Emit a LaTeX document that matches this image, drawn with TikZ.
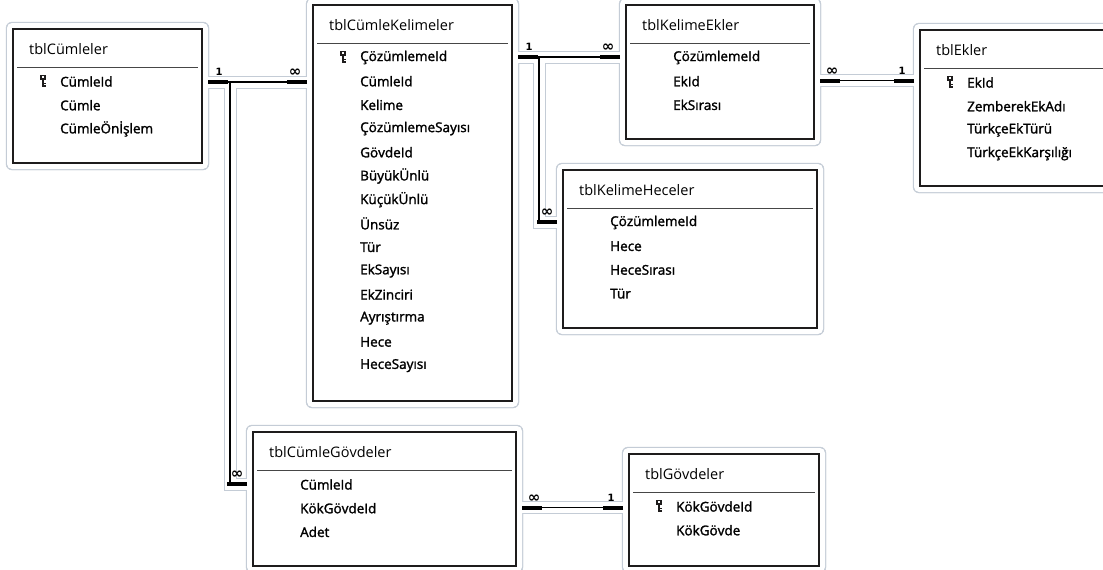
\documentclass[tikz,border=0pt]{standalone}
\usepackage{fontspec}
\setmainfont{Open Sans}
\newfontfamily\fieldfont{Open Sans}[FakeBold=1.7]
\newfontfamily\symfont{DejaVu Sans}
\usetikzlibrary{calc}
\definecolor{boxc}{RGB}{30,28,28}
\definecolor{haloc}{RGB}{196,204,214}
\definecolor{sepc}{RGB}{70,70,70}
\tikzset{
  tbox/.style={draw=boxc, line width=2pt, fill=white, anchor=north west, inner sep=0pt},
  ttitle/.style={anchor=west, inner sep=0pt, font=\fontsize{14.5}{15}\selectfont},
  tfield/.style={anchor=west, inner sep=0pt, font=\fieldfont\fontsize{13.5}{14}\selectfont},
  rel/.style={line width=1.4pt, black},
  card/.style={line width=4pt, black},
  onelbl/.style={font=\symfont\bfseries\fontsize{10}{10}\selectfont, inner sep=0pt},
  manylbl/.style={font=\symfont\bfseries\fontsize{15}{15}\selectfont, inner sep=0pt},
  haloout/.style={line width=13pt, haloc},
  haloin/.style={line width=11pt, white},
}
\newcommand{\dbtable}[6]{%
  \node[tbox, minimum width=#4pt, minimum height=#5pt] (#1) at (#2,#3) {};
  \draw[sepc, line width=1.3pt] ($(#1.north west)+(5,39.5)$) -- ($(#1.north east)+(-5,39.5)$);
  \node[ttitle] (#1-t) at ($(#1.north west)+(17,21)$) {#6};
}
\newcommand{\dbfield}[3]{%
  \node[tfield] (#1-#2) at ($(#1.north west)+(48,{53.5+(#2-1)*23.7})$) {#3};
}
\newcommand{\dbkey}[1]{%
  \coordinate (#1-k) at ($(#1.north west)+(31,53)$);
  \begin{scope}[shift={(#1-k)}]
    \fill[boxc] (-2.6,-6.5) rectangle (2.6,-1);
    \fill[white] (-0.8,-5) rectangle (0.8,-3.2);
    \fill[boxc] (-1.1,-1) rectangle (1.1,6);
    \fill[boxc] (1,1.8) rectangle (2.5,3);
    \fill[boxc] (1,4.2) rectangle (2.5,5.6);
  \end{scope}
}
\newcommand{\tblhalo}[2]{%
  \filldraw[#2, rounded corners=6pt] ($(#1.north west)+(-6,-6)$) rectangle ($(#1.south east)+(6,6)$);
}
\begin{document}
\begin{tikzpicture}[x=1pt,y=-1pt]
\useasboundingbox (0,0) rectangle (1103,570);
\clip (0,0) rectangle (1103,570);
\fill[white] (0,0) rectangle (1103,570);

% placement of tables first (for names)
\node[tbox, draw=none, fill=none, minimum width=189pt, minimum height=134pt] (cl) at (12,28) {};
\node[tbox, draw=none, fill=none, minimum width=199pt, minimum height=396pt] (ck) at (312,4) {};
\node[tbox, draw=none, fill=none, minimum width=188pt, minimum height=134pt] (ke) at (625,4) {};
\node[tbox, draw=none, fill=none, minimum width=254pt, minimum height=158pt] (kh) at (562,169) {};
\node[tbox, draw=none, fill=none, minimum width=200pt, minimum height=156pt] (ek) at (919,29) {};
\node[tbox, draw=none, fill=none, minimum width=263pt, minimum height=134pt] (cg) at (252,431) {};
\node[tbox, draw=none, fill=none, minimum width=190pt, minimum height=112pt] (gv) at (628,453) {};

% connector end coordinates
\coordinate (r1) at ($(cl.north east)+(0,54)$);
\coordinate (r2) at ($(ck.north east)+(0,53)$);
\coordinate (r3) at ($(ke.north east)+(0,76.7)$);
\coordinate (r4) at ($(cg.north east)+(0,76.7)$);
\coordinate (r5) at ($(cg.north west)+(0,53)$);
\coordinate (r6) at ($(kh.north west)+(0,53)$);

\coordinate (c1a) at ($(r1)+(5,0)$);
\coordinate (c1b) at ($(ck.west |- r1)+(-5,0)$);
\coordinate (c2a) at ($(r2)+(5,0)$);
\coordinate (c2b) at ($(ke.west |- r2)+(-5,0)$);
\coordinate (c3a) at ($(r3)+(5,0)$);
\coordinate (c3b) at ($(ek.west |- r3)+(-5,0)$);
\coordinate (c4a) at ($(r4)+(5,0)$);
\coordinate (c4b) at ($(gv.west |- r4)+(-5,0)$);
\coordinate (c5b) at ($(r5)+(-5,0)$);
\coordinate (c6b) at ($(r6)+(-5,0)$);
\coordinate (b1) at ($(c1a)+(22,0)$);
\coordinate (b2) at ($(c2a)+(21,0)$);

% halos
\foreach \t in {cl,ck,ke,kh,ek,cg,gv} {\tblhalo{\t}{haloc}}
\draw[haloout] (r1) -- (ck.west |- r1);
\draw[haloout] (r2) -- (ke.west |- r2);
\draw[haloout] (r3) -- (ek.west |- r3);
\draw[haloout] (r4) -- (gv.west |- r4);
\draw[haloout] (b1) |- (r5);
\draw[haloout] (b2) |- (r6);
\foreach \t in {cl,ck,ke,kh,ek,cg,gv} {
  \fill[white, rounded corners=5pt] ($(\t.north west)+(-5,-5)$) rectangle ($(\t.south east)+(5,5)$);}
\draw[haloin] (r1) -- (ck.west |- r1);
\draw[haloin] (r2) -- (ke.west |- r2);
\draw[haloin] (r3) -- (ek.west |- r3);
\draw[haloin] (r4) -- (gv.west |- r4);
\draw[haloin] (b1) |- (r5);
\draw[haloin] (b2) |- (r6);

% tables
\dbtable{cl}{12}{28}{189}{134}{tblCümleler}
\dbfield{cl}{1}{CümleId}
\dbfield{cl}{2}{Cümle}
\dbfield{cl}{3}{CümleÖnİşlem}
\dbkey{cl}

\dbtable{ck}{312}{4}{199}{396}{tblCümleKelimeler}
\dbfield{ck}{1}{ÇözümlemeId}
\dbfield{ck}{2}{CümleId}
\dbfield{ck}{3}{Kelime}
\dbfield{ck}{4}{ÇözümlemeSayısı}
\dbfield{ck}{5}{GövdeId}
\dbfield{ck}{6}{BüyükÜnlü}
\dbfield{ck}{7}{KüçükÜnlü}
\dbfield{ck}{8}{Ünsüz}
\dbfield{ck}{9}{Tür}
\dbfield{ck}{10}{EkSayısı}
\dbfield{ck}{11}{EkZinciri}
\dbfield{ck}{12}{Ayrıştırma}
\dbfield{ck}{13}{Hece}
\dbfield{ck}{14}{HeceSayısı}
\dbkey{ck}

\dbtable{ke}{625}{4}{188}{134}{tblKelimeEkler}
\dbfield{ke}{1}{ÇözümlemeId}
\dbfield{ke}{2}{EkId}
\dbfield{ke}{3}{EkSırası}

\dbtable{kh}{562}{169}{254}{158}{tblKelimeHeceler}
\dbfield{kh}{1}{ÇözümlemeId}
\dbfield{kh}{2}{Hece}
\dbfield{kh}{3}{HeceSırası}
\dbfield{kh}{4}{Tür}

\dbtable{ek}{919}{29}{200}{156}{tblEkler}
\dbfield{ek}{1}{EkId}
\dbfield{ek}{2}{ZemberekEkAdı}
\dbfield{ek}{3}{TürkçeEkTürü}
\dbfield{ek}{4}{TürkçeEkKarşılığı}
\dbkey{ek}

\dbtable{cg}{252}{431}{263}{134}{tblCümleGövdeler}
\dbfield{cg}{1}{CümleId}
\dbfield{cg}{2}{KökGövdeId}
\dbfield{cg}{3}{Adet}

\dbtable{gv}{628}{453}{190}{112}{tblGövdeler}
\dbfield{gv}{1}{KökGövdeId}
\dbfield{gv}{2}{KökGövde}
\dbkey{gv}

% connectors
\draw[rel] (c1a) -- (c1b);
\draw[rel] (b1) |- (c5b);
\draw[rel] (c2a) -- (c2b);
\draw[rel] (b2) |- (c6b);
\draw[rel] (c3a) -- (c3b);
\draw[rel] (c4a) -- (c4b);

\draw[card] (c1a) -- ++(20,0);
\draw[card] (c1b) -- ++(-20,0);
\draw[card] (c5b) -- ++(-20,0);
\draw[card] (c2a) -- ++(20,0);
\draw[card] (c2b) -- ++(-20,0);
\draw[card] (c6b) -- ++(-20,0);
\draw[card] (c3a) -- ++(20,0);
\draw[card] (c3b) -- ++(-20,0);
\draw[card] (c4a) -- ++(20,0);
\draw[card] (c4b) -- ++(-20,0);

\node[onelbl] (l1a) at ($(c1a)+(11,-10)$) {1};
\node[manylbl] (l1b) at ($(c1b)+(-12,-9)$) {∞};
\node[manylbl] (l5b) at ($(c5b)+(-10,-9)$) {∞};
\node[onelbl] (l2a) at ($(c2a)+(11,-10)$) {1};
\node[manylbl] (l2b) at ($(c2b)+(-12,-9)$) {∞};
\node[manylbl] (l6b) at ($(c6b)+(-10,-9)$) {∞};
\node[manylbl] (l3a) at ($(c3a)+(12,-9)$) {∞};
\node[onelbl] (l3b) at ($(c3b)+(-12,-10)$) {1};
\node[manylbl] (l4a) at ($(c4a)+(12,-9)$) {∞};
\node[onelbl] (l4b) at ($(c4b)+(-12,-10)$) {1};
\end{tikzpicture}
\end{document}
